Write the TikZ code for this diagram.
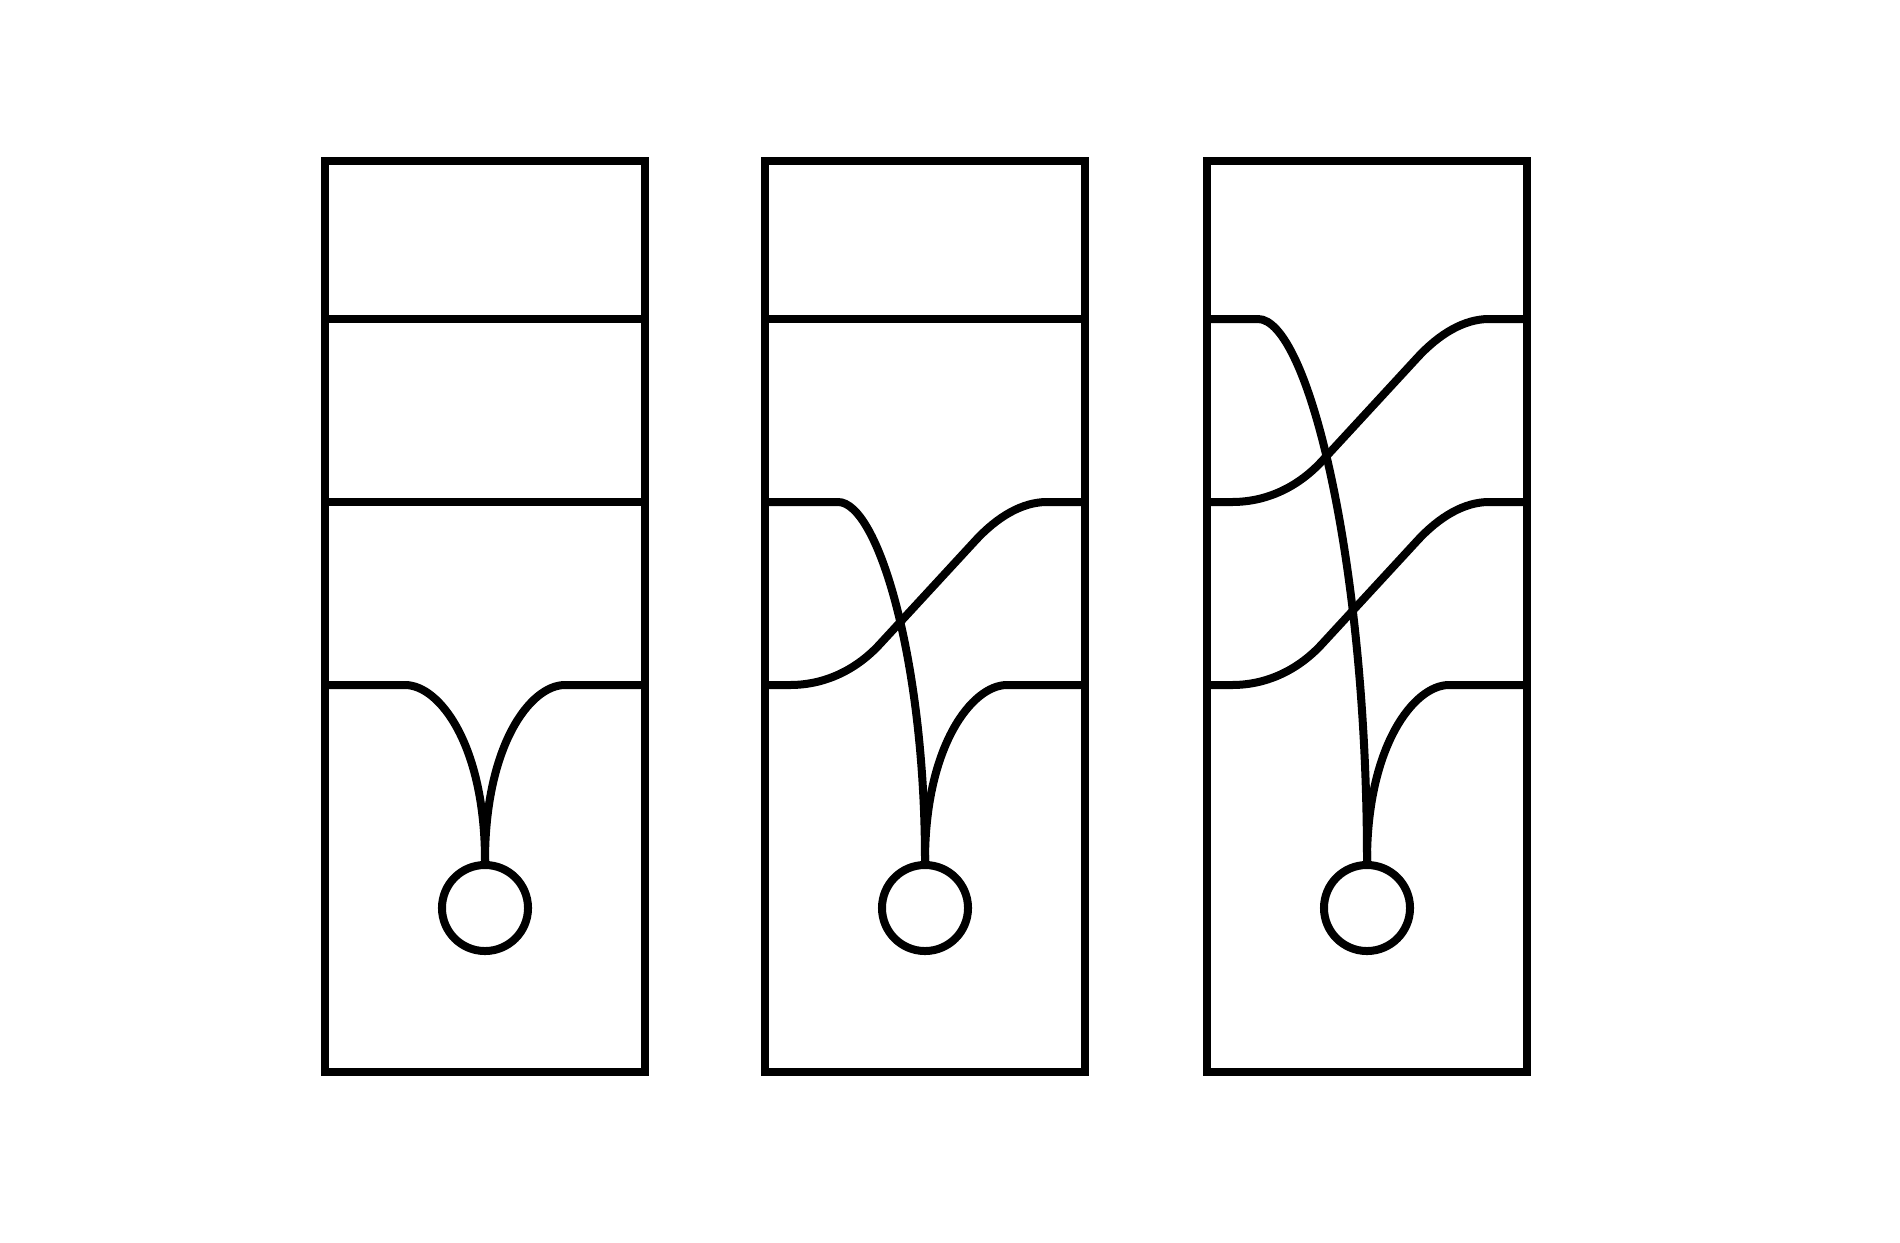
\documentclass[tikz,border=0pt]{standalone}
\begin{document}
\begin{tikzpicture}[x=0.01cm, y=-0.01cm, line width=0.08cm,
  bead/.style={circle, draw, inner sep=0pt, minimum size=0.86cm}]
% Page size as the reference
\useasboundingbox (0,0) rectangle (1900,1242);

% First panel
\draw (325,161) rectangle (645,1072);
\draw (325,319) -- (645,319);
\draw (325,502) -- (645,502);
\node[bead] (bead1) at (485,908) {};
\coordinate (a1l) at (325,685);
\coordinate (a1r) at (645,685);
\draw (a1l) -- (405,685) .. controls +(35,0) and +(0,-115) .. (bead1.north);
\draw (a1r) -- (565,685) .. controls +(-35,0) and +(0,-115) .. (bead1.north);

% Second panel
\draw (765,161) rectangle (1085,1072);
\draw (765,319) -- (1085,319);
\node[bead] (bead2) at (925,908) {};
\coordinate (a2l) at (765,502);
\coordinate (b2l) at (765,685);
\coordinate (b2r) at (1085,502);
\coordinate (c2r) at (1085,685);
\draw (a2l) -- (838,502) .. controls +(40,0) and +(0,-200) .. (bead2.north);
\draw (b2l) -- ++(25,0) .. controls +(37,0) and +(-22,24) .. ++(90,-41)
  -- ++(95,-103) .. controls +(22,-24) and +(-25,0) .. ++(72,-39) -- (b2r);
\draw (c2r) -- (1007,685) .. controls +(-35,0) and +(0,-115) .. (bead2.north);

% Third panel
\draw (1207,161) rectangle (1527,1072);
\node[bead] (bead3) at (1367,908) {};
\coordinate (a3l) at (1207,319);
\coordinate (b3l) at (1207,502);
\coordinate (c3l) at (1207,685);
\coordinate (a3r) at (1527,319);
\coordinate (b3r) at (1527,502);
\coordinate (c3r) at (1527,685);
\draw (a3l) -- (1258,319) .. controls +(50,0) and +(0,-300) .. (bead3.north);
\draw (b3l) -- ++(25,0) .. controls +(37,0) and +(-22,24) .. ++(90,-41)
  -- ++(95,-103) .. controls +(22,-24) and +(-25,0) .. ++(72,-39) -- (a3r);
\draw (c3l) -- ++(25,0) .. controls +(37,0) and +(-22,24) .. ++(90,-41)
  -- ++(95,-103) .. controls +(22,-24) and +(-25,0) .. ++(72,-39) -- (b3r);
\draw (c3r) -- (1449,685) .. controls +(-35,0) and +(0,-115) .. (bead3.north);
\end{tikzpicture}
\end{document}
